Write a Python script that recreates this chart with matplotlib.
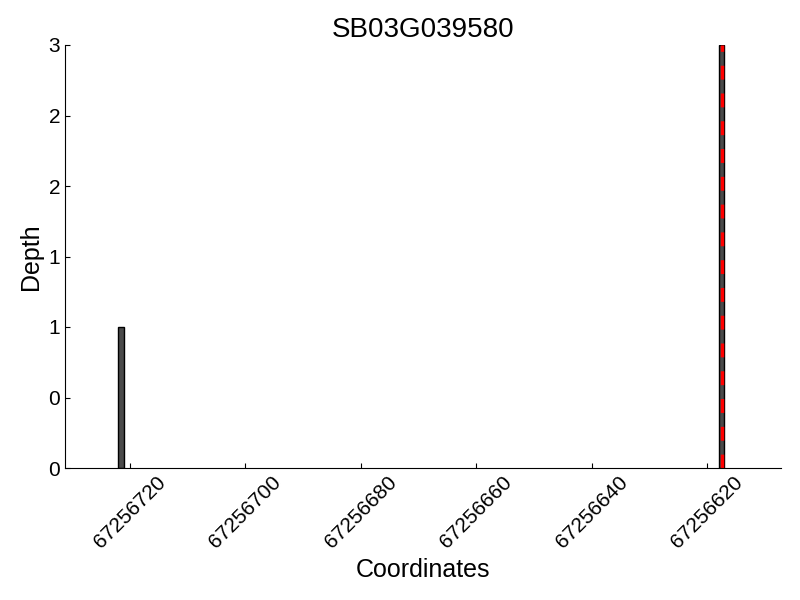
import matplotlib
matplotlib.use("agg")
import matplotlib.pyplot as plt
from matplotlib.ticker import FormatStrFormatter

plt.rcParams["font.family"] = ["Liberation Sans", "DejaVu Sans"]

# coverage data
title = "SB03G039580"
positions = [67256721, 67256617]
depths = [1, 3]
marker_pos = 67256617.5
xticks = [67256720, 67256700, 67256680, 67256660, 67256640, 67256620]
yticks = [0, 0.5, 1, 1.5, 2, 2.5, 3]

fig = plt.figure(figsize=(8, 6), dpi=100)
ax = fig.add_axes([0.08125, 0.22, 0.895, 0.705])

ax.bar(positions, depths, width=1.0, align="edge", color="#4a4a4a",
       edgecolor="black", linewidth=1)
ax.plot([marker_pos, marker_pos], [0, max(depths)], color="red", ls="--", lw=2.5,
        dashes=(4, 4))

ax.set_xlim(67256731.2, 67256607.2)
ax.set_ylim(0, 3)
ax.set_xticks(xticks)
ax.set_yticks(yticks)
ax.xaxis.set_major_formatter(FormatStrFormatter("%d"))
ax.yaxis.set_major_formatter(FormatStrFormatter("%d"))
ax.tick_params(direction="in", labelsize=15, top=False, right=False)
for lbl in ax.get_xticklabels():
    lbl.set_rotation(45)

ax.spines["top"].set_visible(False)
ax.spines["right"].set_visible(False)

ax.set_title(title, fontsize=20)
ax.set_xlabel("Coordinates", fontsize=18)
ax.set_ylabel("Depth", fontsize=18)

fig.savefig("out.png", dpi=100)
